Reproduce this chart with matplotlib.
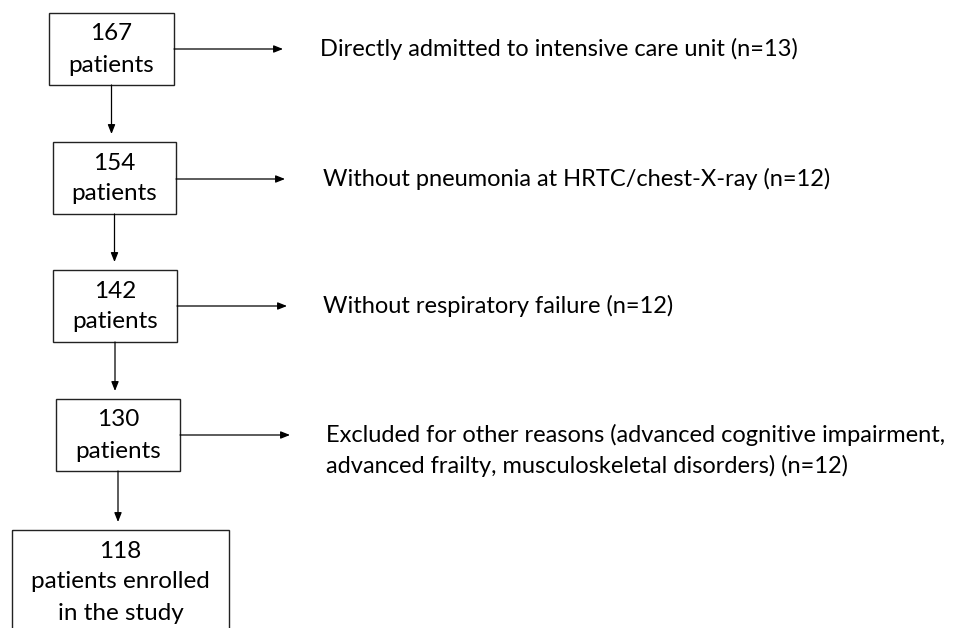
import matplotlib
matplotlib.use('Agg')
import matplotlib.pyplot as plt
from matplotlib.patches import Rectangle

plt.rcParams['font.family'] = ['Lato', 'DejaVu Sans']

# box contents (top to bottom)
box_labels = ["167\npatients", "154\npatients", "142\npatients", "130\npatients",
              "118\npatients enrolled\nin the study"]
# exclusion notes beside each box
side_labels = [
    "Directly admitted to intensive care unit (n=13)",
    "Without pneumonia at HRTC/chest-X-ray (n=12)",
    "Without respiratory failure (n=12)",
    "Excluded for other reasons (advanced cognitive impairment,\nadvanced frailty, musculoskeletal disorders) (n=12)",
]

# box geometry in pixels: left, top, right, bottom
boxes = [(49, 13, 174, 85), (53, 142, 176, 214), (53, 270, 177, 342),
         (56, 399, 180, 471), (12, 530, 229, 640)]
side_y = [49, 179, 306, 435]
arrow_end = [283, 285, 287, 290]
side_x = [320, 323, 323, 326]

fig = plt.figure(figsize=(9.63, 6.28), dpi=100)
ax = fig.add_axes([0, 0, 1, 1])
ax.set_xlim(0, 963)
ax.set_ylim(628, 0)
ax.axis('off')

arrow_kw = dict(arrowstyle='-|>,head_length=0.55,head_width=0.22', color='black',
                lw=0.9, shrinkA=0, shrinkB=0)

for i, (l, t, r, b) in enumerate(boxes):
    ax.add_patch(Rectangle((l, t), r - l, b - t, fill=False, ec='#222222', lw=1.0))
    lines = box_labels[i].split("\n")
    if i < 4:
        ys = [t + 21, t + 52]
    else:
        ys = [t + 21, t + 52, t + 83]
    for y, txt in zip(ys, lines):
        ax.text((l + r) / 2, y, txt, ha='center', va='center', fontsize=17.5, color='black')

for i in range(4):
    l, t, r, b = boxes[i]
    ax.annotate('', xy=(arrow_end[i], side_y[i]), xytext=(r, side_y[i]), arrowprops=arrow_kw)
    for k, txt in enumerate(side_labels[i].split("\n")):
        ax.text(side_x[i], side_y[i] + 31 * k, txt, ha='left', va='center',
                fontsize=17, color='black')
    # vertical arrow down to next box
    nl, nt, nr, nb = boxes[i + 1]
    x = (l + r) / 2
    ax.annotate('', xy=(x, nt - 8), xytext=(x, b), arrowprops=arrow_kw)

fig.savefig('out.png', dpi=100)
